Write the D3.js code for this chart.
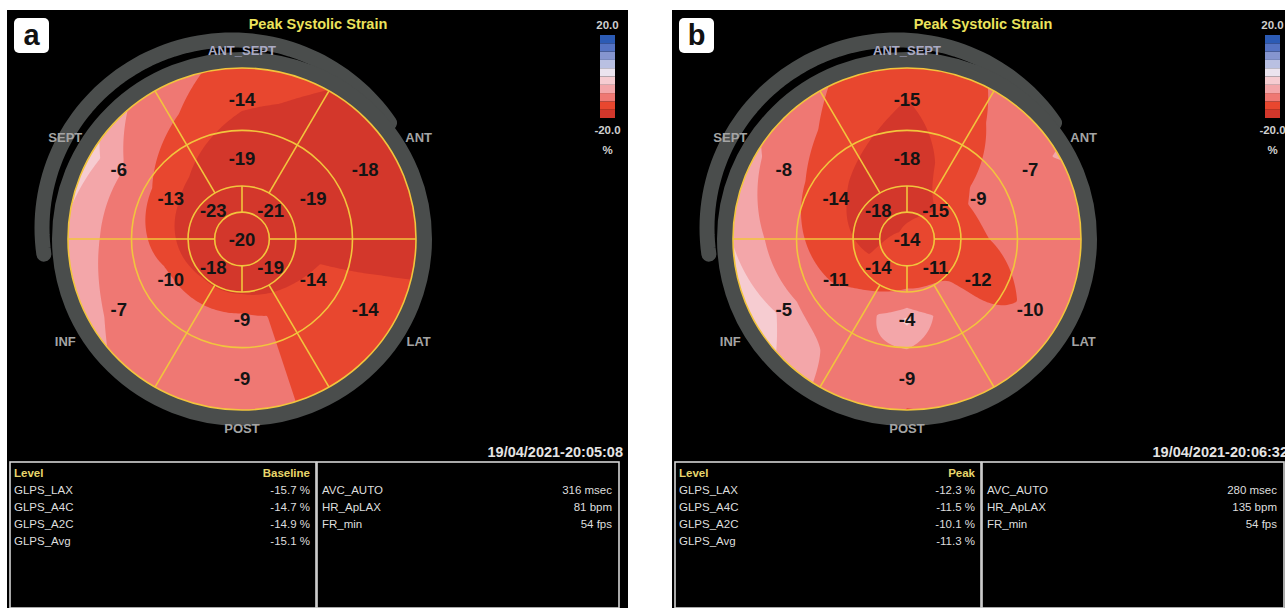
<!DOCTYPE html>
<html>
<head>
<meta charset="utf-8">
<script src="https://cdn.jsdelivr.net/npm/d3@7"></script>
<style>
  body { margin: 0; background: #fff; }
  svg { display: block; }
</style>
</head>
<body>
<svg id="chart" width="1285" height="608"></svg>
<script>
// segment order: walls by band around the ring (starting at 3 o'clock, counter clockwise)
const walls = ["ANT", "ANT_SEPT", "SEPT", "INF", "POST", "LAT"];
const apicalWalls = ["ANT", "SEPT", "INF", "LAT"];

// panel a - baseline
const basalA = [-18, -14, -6, -7, -9, -14];
const midA = [-19, -19, -13, -10, -9, -14];
const apicalA = [-21, -23, -18, -19];
const apexA = -20;

// panel b - peak
const basalB = [-7, -15, -8, -5, -9, -10];
const midB = [-9, -18, -14, -11, -4, -12];
const apicalB = [-15, -18, -14, -11];
const apexB = -14;

const glpsNames = ["GLPS_LAX", "GLPS_A4C", "GLPS_A2C", "GLPS_Avg"];
const glpsA = [-15.7, -14.7, -14.9, -15.1];
const glpsB = [-12.3, -11.5, -10.1, -11.3];
const timingNames = ["AVC_AUTO", "HR_ApLAX", "FR_min"];
const timingA = ["316 msec", "81 bpm", "54 fps"];
const timingB = ["280 msec", "135 bpm", "54 fps"];

const stampA = "19/04/2021-20:05:08";
const stampB = "19/04/2021-20:06:32";
const scaleLimits = [-20, 20];
// colour steps, from -20 up to +20, and where the map switches between them
const bandColors = ["#d3372b", "#e8472f", "#ef7873", "#f3a6a9", "#f6ccd1",
                    "#ebe4ef", "#b9c0e2", "#8695cf", "#5573c3", "#2c5bb5"];
const mapSteps = [-15, -10.5, -6.5, -4.5, -1.5, 1.5, 4.5, 8, 13];

const FONT = "'Liberation Sans', Arial, Helvetica, sans-serif";
const NARROW = "'Liberation Sans Narrow', 'Arial Narrow', 'Liberation Sans', Arial, sans-serif";

const svg = d3.select("#chart");

const colorOf = d3.scaleThreshold().domain(mapSteps).range(bandColors);

const ringEdges = [0.157, 0.31, 0.635, 1];
const wallAngle = d3.scaleBand().domain(walls).range([0, 2 * Math.PI]);
const apicalAngle = d3.scaleBand().domain(apicalWalls).range([0, 2 * Math.PI]);

function around(vals, th) {
    // periodic linear interpolation between band centres
    let n = vals.length;
    let w = 2 * Math.PI / n;
    let t = (th - w / 2) / w;
    t = ((t % n) + n) % n;
    let k = Math.floor(t), f = t - k;
    return vals[k] * (1 - f) + vals[(k + 1) % n] * f;
}

function makeField(basal, mid, apical, apex) {
    let r1 = (ringEdges[0] + ringEdges[1]) / 2;
    let r2 = (ringEdges[1] + ringEdges[2]) / 2;
    let r3 = (ringEdges[2] + ringEdges[3]) / 2;
    return (u, v) => {
        let r = Math.sqrt(u * u + v * v);
        let th = Math.atan2(v, u);
        if (th < 0) th += 2 * Math.PI;
        let a = around(apical, th), m = around(mid, th), b = around(basal, th);
        if (r <= r1) return apex + (a - apex) * r / r1;
        if (r <= r2) return a + (m - a) * (r - r1) / (r2 - r1);
        if (r <= r3) return m + (b - m) * (r - r2) / (r3 - r2);
        return b + 0.6 * (b - m) * (r - r3) / (r3 - r2);
    };
}

function drawPanel(dx, cfg) {
    let g = svg.append("g").attr("transform", `translate(${dx},0)`);
    const cx = 242, cy = 239, rx = 174, ry = 171;

    g.append("rect").attr("x", 7).attr("y", 10).attr("width", 621).attr("height", 600).attr("fill", "#000");

    // tag
    g.append("rect").attr("x", 14).attr("y", 18).attr("width", 35).attr("height", 35)
     .attr("rx", 5).attr("fill", "#fff");
    g.append("text").attr("x", 31.5).attr("y", 45).attr("text-anchor", "middle")
     .attr("font-family", FONT).attr("font-weight", "bold").attr("font-size", 29)
     .attr("fill", "#111").text(cfg.tag);

    g.append("text").attr("x", 318).attr("y", 29).attr("text-anchor", "middle")
     .attr("font-family", FONT).attr("font-weight", "bold").attr("font-size", 14.5)
     .attr("fill", "#ece35c").text("Peak Systolic Strain");

    // grey outline rings
    let outer = d3.range(34, 189, 2).map((deg) => {
        let t = deg * Math.PI / 180;
        return [cx - 10 + 190 * Math.cos(t), cy - 11 - 188 * Math.sin(t)];
    });
    g.append("path").attr("d", d3.line()(outer)).attr("fill", "none")
     .attr("stroke", "#4a4d4c").attr("stroke-width", 15).attr("stroke-linecap", "round");
    g.append("ellipse").attr("cx", cx).attr("cy", cy).attr("rx", rx + 8).attr("ry", ry + 8)
     .attr("fill", "none").attr("stroke", "#4a4d4c").attr("stroke-width", 16);

    // strain map
    let clipId = "clip" + cfg.tag;
    g.append("clipPath").attr("id", clipId).append("ellipse")
     .attr("cx", cx).attr("cy", cy).attr("rx", rx).attr("ry", ry);
    let field = makeField(cfg.basal, cfg.mid, cfg.apical, cfg.apex);
    const step = 2;
    let gx0 = cx - rx - 6, gy0 = cy - ry - 6;
    let nx = Math.ceil((2 * rx + 12) / step) + 1, ny = Math.ceil((2 * ry + 12) / step) + 1;
    let values = new Array(nx * ny);
    for (let j = 0; j < ny; j++) {
        for (let i = 0; i < nx; i++) {
            let x = gx0 + i * step, y = gy0 + j * step;
            values[j * nx + i] = field((x - cx) / rx, (cy - y) / ry);
        }
    }
    let contours = d3.contours().size([nx, ny]).thresholds(mapSteps)(values);
    let contourPath = d3.geoPath(d3.geoTransform({
        point: function(px, py) { this.stream.point(gx0 + (px - 0.5) * step, gy0 + (py - 0.5) * step); }
    }));
    let map = g.append("g").attr("clip-path", `url(#${clipId})`);
    map.append("ellipse").attr("cx", cx).attr("cy", cy).attr("rx", rx).attr("ry", ry)
       .attr("fill", bandColors[0]);
    map.selectAll(".band")
       .data(contours).enter()
       .append("path")
       .attr("class", "band")
       .attr("d", contourPath)
       .attr("fill", (d) => colorOf(d.value));

    // segment grid
    let grid = g.append("g").attr("fill", "none").attr("stroke", "#f2c53d").attr("stroke-width", 1.6);
    grid.selectAll("ellipse").data(ringEdges).enter().append("ellipse")
        .attr("cx", cx).attr("cy", cy).attr("rx", (d) => rx * d).attr("ry", (d) => ry * d);
    let spoke = (t, r0, r1) => `M${cx + rx * r0 * Math.cos(t)},${cy - ry * r0 * Math.sin(t)}L${cx + rx * r1 * Math.cos(t)},${cy - ry * r1 * Math.sin(t)}`;
    grid.selectAll(".wall").data(walls).enter().append("path").attr("class", "wall")
        .attr("d", (d) => spoke(wallAngle(d), ringEdges[1], ringEdges[3]));
    grid.selectAll(".apical").data(apicalWalls).enter().append("path").attr("class", "apical")
        .attr("d", (d) => spoke(apicalAngle(d), ringEdges[0], ringEdges[1]));

    // segment values
    let labels = [];
    walls.forEach((w, i) => {
        let t = wallAngle(w) + wallAngle.bandwidth() / 2;
        labels.push({v: cfg.basal[i], t: t, r: (ringEdges[2] + ringEdges[3]) / 2});
        labels.push({v: cfg.mid[i], t: t, r: (ringEdges[1] + ringEdges[2]) / 2});
    });
    apicalWalls.forEach((w, i) => {
        let t = apicalAngle(w) + apicalAngle.bandwidth() / 2;
        labels.push({v: cfg.apical[i], t: t, r: (ringEdges[0] + ringEdges[1]) / 2});
    });
    labels.push({v: cfg.apex, t: 0, r: 0});
    g.selectAll(".val").data(labels).enter().append("text").attr("class", "val")
     .attr("x", (d) => cx + rx * d.r * Math.cos(d.t))
     .attr("y", (d) => cy - ry * d.r * Math.sin(d.t))
     .attr("dy", "0.36em").attr("text-anchor", "middle")
     .attr("font-family", FONT).attr("font-weight", "bold").attr("font-size", 18.5)
     .attr("fill", "#141414").text((d) => d.v);

    // wall names
    g.selectAll(".wallname").data(walls).enter().append("text").attr("class", "wallname")
     .attr("x", (d) => {
         let t = wallAngle(d) + wallAngle.bandwidth() / 2;
         return cx + (219 - 30 * Math.abs(Math.sin(t))) * Math.cos(t);
     })
     .attr("y", (d) => {
         let t = wallAngle(d) + wallAngle.bandwidth() / 2;
         return cy - (219 - 30 * Math.abs(Math.sin(t))) * Math.sin(t);
     })
     .attr("dy", "0.36em").attr("text-anchor", "middle")
     .attr("font-family", FONT).attr("font-weight", "bold").attr("font-size", 13)
     .attr("fill", (d) => d === "ANT_SEPT" ? "#aaaac4" : "#a4a4a4").text((d) => d);

    // colour scale
    let yBar = d3.scaleLinear().domain(scaleLimits).range([118, 35]);
    let bands = d3.range(scaleLimits[0], scaleLimits[1], 4);
    g.selectAll(".cbar").data(bands).enter().append("rect").attr("class", "cbar")
     .attr("x", 600).attr("width", 15)
     .attr("y", (d) => yBar(d + 4)).attr("height", (d) => yBar(d) - yBar(d + 4))
     .attr("fill", (d, i) => bandColors[i]);
    g.selectAll(".cbarlab").data([scaleLimits[1], scaleLimits[0]]).enter().append("text")
     .attr("class", "cbarlab")
     .attr("x", 607.5).attr("y", (d) => d > 0 ? 29 : 134).attr("text-anchor", "middle")
     .attr("font-family", FONT).attr("font-weight", "bold").attr("font-size", 11.5)
     .attr("fill", "#cfcfcf").text((d) => d.toFixed(1));
    g.append("text").attr("x", 607.5).attr("y", 154).attr("text-anchor", "middle")
     .attr("font-family", FONT).attr("font-weight", "bold").attr("font-size", 11.5)
     .attr("fill", "#cfcfcf").text("%");

    g.append("text").attr("x", 623).attr("y", 457).attr("text-anchor", "end")
     .attr("font-family", NARROW).attr("font-weight", "bold").attr("font-size", 14.5)
     .attr("fill", "#e4e4e4").text(cfg.stamp);

    // results table
    g.append("rect").attr("x", 10).attr("y", 462).attr("width", 306).attr("height", 146)
     .attr("fill", "none").attr("stroke", "#d4d4d4").attr("stroke-width", 1.6);
    g.append("rect").attr("x", 317).attr("y", 462).attr("width", 302).attr("height", 146)
     .attr("fill", "none").attr("stroke", "#d4d4d4").attr("stroke-width", 1.6);
    let rowY = d3.scaleLinear().domain([0, 1]).range([477, 494]);
    let txt = g.append("g").attr("font-family", NARROW).attr("font-size", 11.5);
    txt.append("text").attr("x", 14).attr("y", rowY(0)).attr("font-weight", "bold")
       .attr("fill", "#e8d66c").text("Level");
    txt.append("text").attr("x", 310).attr("y", rowY(0)).attr("text-anchor", "end")
       .attr("font-weight", "bold").attr("fill", "#e8d66c").text(cfg.level);
    txt.selectAll(".gname").data(glpsNames).enter().append("text").attr("class", "gname")
       .attr("x", 14).attr("y", (d, i) => rowY(i + 1)).attr("fill", "#dedede").text((d) => d);
    txt.selectAll(".gval").data(cfg.glps).enter().append("text").attr("class", "gval")
       .attr("x", 310).attr("y", (d, i) => rowY(i + 1)).attr("text-anchor", "end")
       .attr("fill", "#dedede").text((d) => d.toFixed(1) + " %");
    txt.selectAll(".tname").data(timingNames).enter().append("text").attr("class", "tname")
       .attr("x", 322).attr("y", (d, i) => rowY(i + 1)).attr("fill", "#dedede").text((d) => d);
    txt.selectAll(".tval").data(cfg.timing).enter().append("text").attr("class", "tval")
       .attr("x", 612).attr("y", (d, i) => rowY(i + 1)).attr("text-anchor", "end")
       .attr("fill", "#dedede").text((d) => d);
}

drawPanel(0, {tag: "a", basal: basalA, mid: midA, apical: apicalA, apex: apexA,
              level: "Baseline", glps: glpsA, timing: timingA, stamp: stampA});
drawPanel(665, {tag: "b", basal: basalB, mid: midB, apical: apicalB, apex: apexB,
                level: "Peak", glps: glpsB, timing: timingB, stamp: stampB});
</script>
</body>
</html>
